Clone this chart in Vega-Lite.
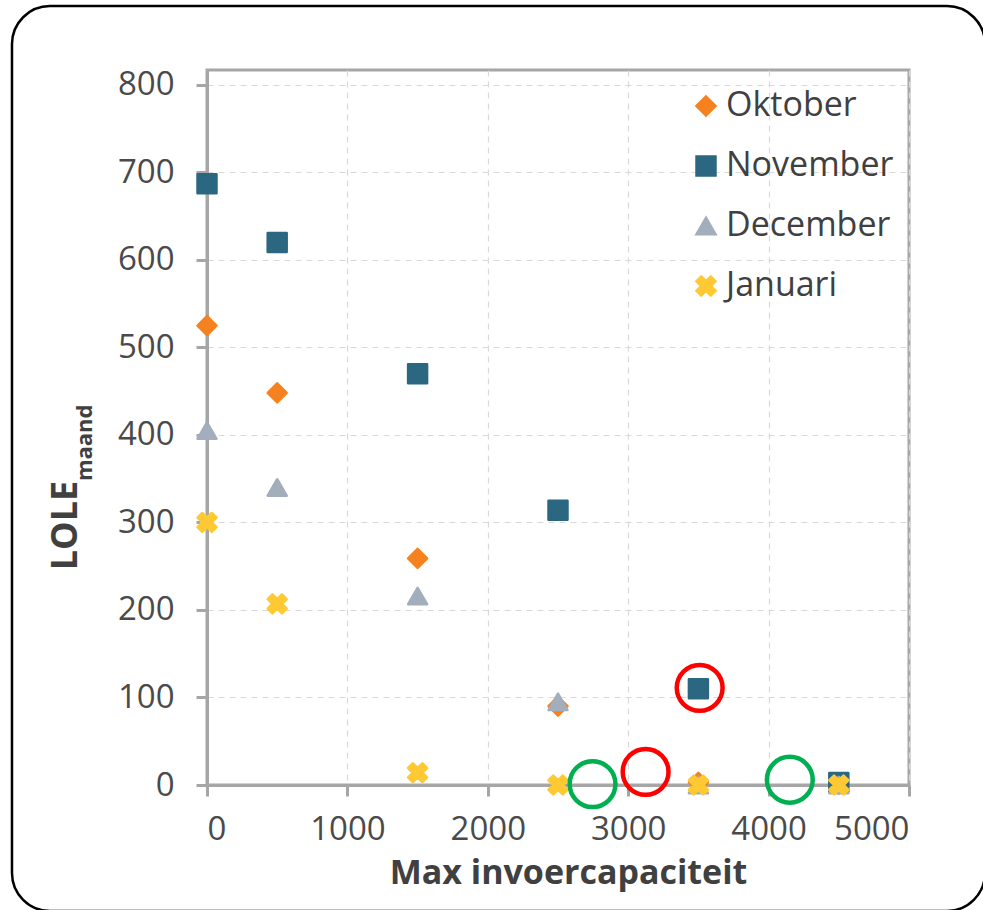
{
  "$schema": "https://vega.github.io/schema/vega-lite/v6.json",
  "width": 702,
  "height": 715,
  "autosize": {"type": "none"},
  "padding": {"left": 207, "top": 70, "right": 74, "bottom": 125},
  "background": "white",
  "config": {
    "font": "Open Sans",
    "view": {"stroke": "#a6a6a6", "strokeWidth": 3},
    "axis": {
      "grid": true,
      "domainColor": "#a6a6a6",
      "domainWidth": 3,
      "tickColor": "#a6a6a6",
      "tickWidth": 3,
      "tickSize": 11,
      "gridColor": "#d9d9d9",
      "gridDash": [6, 5],
      "gridWidth": 1.2,
      "labelFont": "Open Sans",
      "labelFontSize": 33,
      "labelColor": "#4a4a4a",
      "titleFont": "Open Sans",
      "titleColor": "#404040",
      "titleFontWeight": "bold"
    }
  },
  "datasets": {
    "lole": [
      {"cap": 0, "lole": 525, "maand": "Oktober"},
      {"cap": 500, "lole": 448, "maand": "Oktober"},
      {"cap": 1500, "lole": 259, "maand": "Oktober"},
      {"cap": 2500, "lole": 90, "maand": "Oktober"},
      {"cap": 3500, "lole": 3, "maand": "Oktober"},
      {"cap": 4500, "lole": 1, "maand": "Oktober"},
      {"cap": 0, "lole": 687, "maand": "November"},
      {"cap": 500, "lole": 620, "maand": "November"},
      {"cap": 1500, "lole": 470, "maand": "November"},
      {"cap": 2500, "lole": 314, "maand": "November"},
      {"cap": 3500, "lole": 110, "maand": "November"},
      {"cap": 4500, "lole": 3, "maand": "November"},
      {"cap": 0, "lole": 405, "maand": "December"},
      {"cap": 500, "lole": 340, "maand": "December"},
      {"cap": 1500, "lole": 216, "maand": "December"},
      {"cap": 2500, "lole": 95, "maand": "December"},
      {"cap": 3500, "lole": 0, "maand": "December"},
      {"cap": 4500, "lole": 0, "maand": "December"},
      {"cap": 0, "lole": 300, "maand": "Januari"},
      {"cap": 500, "lole": 207, "maand": "Januari"},
      {"cap": 1500, "lole": 14, "maand": "Januari"},
      {"cap": 2500, "lole": 0, "maand": "Januari"},
      {"cap": 3500, "lole": 0, "maand": "Januari"},
      {"cap": 4500, "lole": 0, "maand": "Januari"}
    ],
    "ringsRood": [
      {"cap": 3509, "lole": 111},
      {"cap": 3124, "lole": 15}
    ],
    "ringsGroen": [
      {"cap": 2746, "lole": 1},
      {"cap": 4151, "lole": 6}
    ],
    "sub": [
      {"cap": -819, "lole": 391, "text": "maand"}
    ],
    "frame": [
      {"x0": -1389, "x1": 5541, "y0": -144, "y1": 890}
    ]
  },
  "layer": [
    {
      "data": {"name": "lole"},
      "mark": {"type": "point", "filled": true, "opacity": 1, "size": 360, "strokeWidth": 2.5, "strokeJoin": "round"},
      "encoding": {
        "x": {
          "field": "cap", "type": "quantitative",
          "scale": {"domain": [0, 5000], "nice": false, "zero": false},
          "axis": {
            "grid": true,
            "format": "d",
            "values": [0, 1000, 2000, 3000, 4000, 5000],
            "labelPadding": 17,
            "title": "Max invoercapaciteit",
            "titleFontSize": 34,
            "titleBaseline": "alphabetic",
            "titleX": 361,
            "titleY": 98
          }
        },
        "y": {
          "field": "lole", "type": "quantitative",
          "scale": {"domain": [0, 817], "nice": false, "zero": false},
          "axis": {
            "grid": true,
            "format": "d",
            "values": [0, 100, 200, 300, 400, 500, 600, 700, 800],
            "labelPadding": 22,
            "title": "LOLE",
            "titleFontSize": 36,
            "titleAngle": 270,
            "titleAlign": "center",
            "titleBaseline": "alphabetic",
            "titleX": -131,
            "titleY": 455
          }
        },
        "color": {
          "field": "maand", "type": "nominal",
          "scale": {"domain": ["Oktober", "November", "December", "Januari"], "range": ["#f5821f", "#2b6780", "#a2aebb", "#ffc933"]},
          "legend": {
            "title": null,
            "orient": "none",
            "legendX": 482,
            "legendY": 19,
            "labelFontSize": 34,
            "labelFont": "Open Sans",
            "labelColor": "#404040",
            "labelLimit": 0,
            "symbolSize": 360,
            "symbolStrokeWidth": 2.5,
            "labelOffset": 3,
            "rowPadding": 26,
            "symbolOpacity": 1
          }
        },
        "stroke": {
          "field": "maand", "type": "nominal",
          "scale": {"domain": ["Oktober", "November", "December", "Januari"], "range": ["#f5821f", "#2b6780", "#a2aebb", "#ffc933"]}
        },
        "shape": {
          "field": "maand", "type": "nominal",
          "scale": {"domain": ["Oktober", "November", "December", "Januari"], "range": ["diamond", "square", "triangle-up", "M-1,-0.5 L-0.5,-1 L0,-0.5 L0.5,-1 L1,-0.5 L0.5,0 L1,0.5 L0.5,1 L0,0.5 L-0.5,1 L-1,0.5 L-0.5,0 Z"]}
        }
      }
    },
    {
      "data": {"name": "ringsRood"},
      "mark": {"type": "point", "filled": false, "size": 2100, "strokeWidth": 4.5, "opacity": 1, "color": "#ff0000"},
      "encoding": {
        "x": {"field": "cap", "type": "quantitative"},
        "y": {"field": "lole", "type": "quantitative"}
      }
    },
    {
      "data": {"name": "ringsGroen"},
      "mark": {"type": "point", "filled": false, "size": 2100, "strokeWidth": 4.5, "opacity": 1, "color": "#00b050"},
      "encoding": {
        "x": {"field": "cap", "type": "quantitative"},
        "y": {"field": "lole", "type": "quantitative"}
      }
    },
    {
      "data": {"name": "sub"},
      "mark": {"type": "text", "angle": 270, "align": "center", "baseline": "alphabetic", "fontSize": 22, "fontWeight": "bold", "font": "Open Sans", "color": "#404040", "clip": false},
      "encoding": {
        "x": {"field": "cap", "type": "quantitative"},
        "y": {"field": "lole", "type": "quantitative"},
        "text": {"field": "text"}
      }
    },
    {
      "data": {"name": "frame"},
      "mark": {"type": "rect", "fillOpacity": 0, "stroke": "black", "strokeWidth": 2.5, "cornerRadius": 38, "clip": false},
      "encoding": {
        "x": {"field": "x0", "type": "quantitative"},
        "x2": {"field": "x1"},
        "y": {"field": "y0", "type": "quantitative"},
        "y2": {"field": "y1"}
      }
    }
  ]
}
